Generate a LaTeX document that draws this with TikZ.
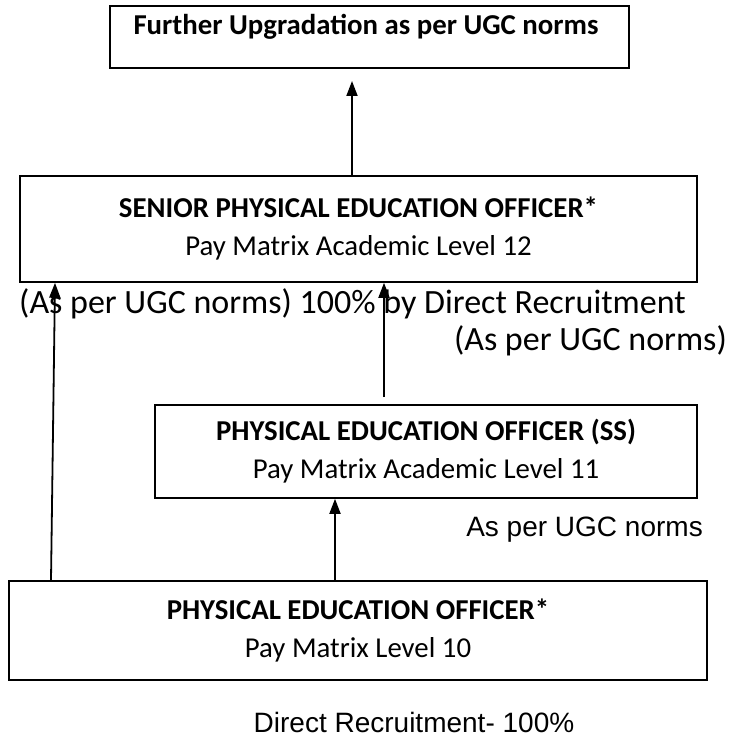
\documentclass[tikz,border=0pt]{standalone}
\usepackage{fontspec}
\setmainfont{Carlito}
\newfontfamily\arialfont{Liberation Sans}
\usetikzlibrary{arrows.meta}

\tikzset{
  post/.style={draw, line width=1.6pt, inner sep=0pt, align=center,
    font=\fontsize{28.8}{38}\selectfont},
  posttext/.style={inner sep=0pt, font=\fontsize{28.8}{38}\selectfont},
  note/.style={inner sep=0pt, font=\fontsize{34}{40}\selectfont},
  arialnote/.style={inner sep=0pt, font=\arialfont\fontsize{28}{32}\selectfont},
  promote/.style={line width=1.8pt, -{Triangle[length=15pt,width=11pt]}}
}

\begin{document}
\begin{tikzpicture}[x=1pt, y=-1pt]
\useasboundingbox (0,0) rectangle (737,738);

% posts, from the top of the ladder down
\node[post, minimum width=519pt, minimum height=62pt] (upgrade) at (369.5,37) {};
\node[posttext, anchor=base] (upgradetext) at (366,35) {\bfseries Further Upgradation as per UGC norms};

\node[post, minimum width=677pt, minimum height=106pt] (spe) at (358.5,229)
  {{\bfseries SENIOR PHYSICAL EDUCATION OFFICER*}\\Pay Matrix Academic Level 12};

\node[post, minimum width=542pt, minimum height=93pt] (pss) at (426,451.5)
  {{\bfseries PHYSICAL EDUCATION OFFICER (SS)}\\Pay Matrix Academic Level 11};

\node[post, minimum width=698pt, minimum height=99pt] (peo) at (358,630.5)
  {{\bfseries PHYSICAL EDUCATION OFFICER*}\\Pay Matrix Level 10};

% notes on the routes
\node[note, anchor=base west] (drnote) at (19,313) {(As per UGC norms) 100\% by Direct Recruitment};
\node[note, anchor=base east] (ugcnote) at (727,350) {(As per UGC norms)};
\node[arialnote, anchor=base east] (ssnote) at (703,536) {As per UGC norms};
\node[arialnote, anchor=base] (entrynote) at (414,732) {Direct Recruitment- 100\%};

% promotion arrows
\coordinate (tipup) at (352,81);
\coordinate (leftfoot) at (51,0);
\coordinate (lefthead) at (55,0);
\coordinate (midfoot) at (384,397);
\coordinate (lowx) at (335,0);

\draw[promote] (spe.north -| tipup) -- (tipup);
\draw[promote] (peo.north -| leftfoot) -- (spe.south -| lefthead);
\draw[promote] (midfoot) -- (spe.south -| midfoot);
\draw[promote] (peo.north -| lowx) -- (pss.south -| lowx);
\end{tikzpicture}
\end{document}
